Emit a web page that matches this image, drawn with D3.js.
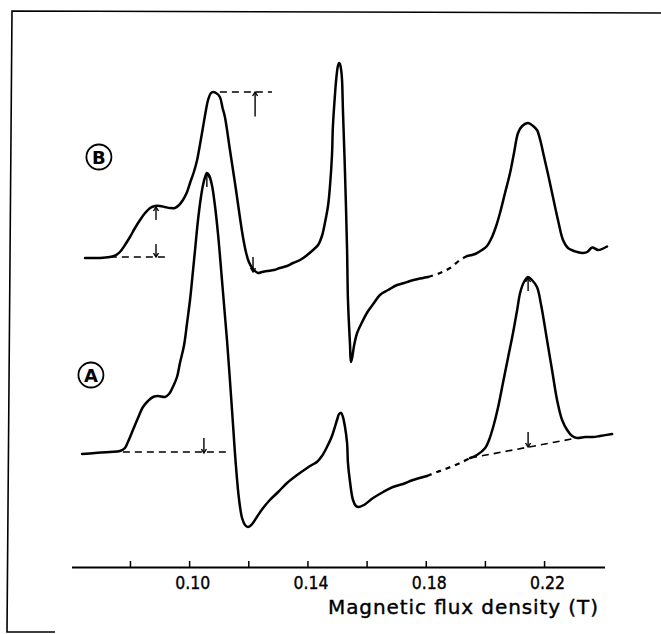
<!DOCTYPE html>
<html><head><meta charset="utf-8">
<script src="https://cdn.jsdelivr.net/npm/d3@7"></script>
<style>
html,body{margin:0;padding:0;background:#fff;}
svg{display:block;}
</style></head>
<body>
<svg id="chart" width="661" height="634"></svg>
<script>
// ---- DATA (x: magnetic flux density in T, y: signal, arbitrary units) ----
const bField = [0.0648,0.0699,0.0732,0.0753,0.0766,0.0783,0.0800,0.0817,0.0834,0.0851,0.0868,0.0885,0.0901,0.0918,0.0935,0.0952,0.0966,0.0979,0.0993,0.1003,0.1016,0.1027,0.1037,0.1047,0.1057,0.1064,0.1074,0.1081,0.1091,0.1104,0.1113,0.1121,0.1138,0.1155,0.1172,0.1182,0.1192,0.1202,0.1216,0.1233,0.1246,0.1263,0.1287,0.1307,0.1331,0.1351,0.1375,0.1399,0.1419,0.1436,0.1449,0.1459,0.1470,0.1476,0.1483,0.1486,0.1493,0.1497,0.1503,0.1507,0.1510,0.1514,0.1517,0.1520,0.1527,0.1534,0.1537,0.1544,0.1547,0.1551,0.1558,0.1568,0.1585,0.1601,0.1625,0.1645,0.1673,0.1703,0.1727,0.1747,0.1774,0.1808,0.1848,0.1882,0.1916,0.1940,0.1967,0.1990,0.2007,0.2024,0.2038,0.2051,0.2068,0.2085,0.2099,0.2112,0.2126,0.2146,0.2163,0.2176,0.2187,0.2197,0.2214,0.2230,0.2247,0.2264,0.2281,0.2312,0.2332,0.2346,0.2363,0.2383,0.2413];
const bSignal = [61.8,61.8,62.0,62.4,63.0,64.4,66.0,67.8,69.4,70.8,71.8,72.2,72.2,72.0,71.8,71.8,72.4,73.4,75.0,76.8,79.0,81.4,84.6,88.0,91.4,93.4,94.8,95.0,94.8,94.0,91.8,90.0,83.4,76.8,69.8,66.0,63.0,61.0,59.6,58.8,59.0,59.2,59.4,59.8,60.2,60.8,61.4,62.4,63.4,64.4,66.2,68.8,72.4,76.0,82.4,88.0,94.4,97.4,100.2,100.8,100.6,99.4,97.4,91.4,78.8,63.4,53.4,44.4,41.0,41.8,44.4,46.8,49.0,50.8,52.8,54.4,55.4,56.4,56.8,57.2,57.6,58.0,58.8,59.8,61.4,62.2,62.6,63.4,64.2,66.0,68.2,70.8,74.8,78.8,83.0,86.8,88.2,88.8,88.2,87.4,85.4,82.8,78.4,74.0,69.4,65.4,63.8,63.0,62.8,63.0,63.9,63.4,64.1];
const bGap = [0.1808, 0.1940];

const aField = [0.0638,0.0682,0.0732,0.0766,0.0783,0.0793,0.0810,0.0827,0.0844,0.0861,0.0878,0.0895,0.0918,0.0932,0.0945,0.0959,0.0969,0.0983,0.0993,0.1003,0.1010,0.1020,0.1030,0.1040,0.1047,0.1054,0.1060,0.1067,0.1077,0.1087,0.1098,0.1111,0.1128,0.1145,0.1158,0.1169,0.1179,0.1189,0.1199,0.1213,0.1229,0.1250,0.1273,0.1301,0.1331,0.1365,0.1399,0.1415,0.1432,0.1449,0.1466,0.1483,0.1500,0.1507,0.1514,0.1520,0.1527,0.1534,0.1537,0.1544,0.1554,0.1564,0.1574,0.1591,0.1622,0.1656,0.1689,0.1723,0.1757,0.1804,0.1838,0.1875,0.1916,0.1950,0.1973,0.2001,0.2014,0.2028,0.2044,0.2061,0.2078,0.2095,0.2109,0.2119,0.2132,0.2146,0.2159,0.2176,0.2190,0.2210,0.2227,0.2244,0.2261,0.2278,0.2295,0.2312,0.2339,0.2366,0.2389,0.2430];
const aSignal = [22.6,22.8,23.0,23.2,23.8,25.0,27.4,29.8,32.0,33.2,34.0,34.2,34.0,34.6,36.0,38.0,40.8,44.4,48.8,53.4,57.4,63.4,69.4,74.0,76.4,78.0,78.8,78.4,76.4,72.4,66.4,57.4,45.4,31.4,20.4,13.4,9.8,8.4,8.0,8.6,10.0,11.8,13.4,15.0,16.8,18.4,19.8,20.4,21.0,22.2,24.0,26.2,29.4,30.6,30.8,30.0,28.0,24.8,20.8,17.0,13.4,12.2,12.0,12.4,13.8,15.0,16.0,16.6,17.4,18.2,19.0,19.8,20.8,21.8,22.4,23.8,25.4,28.0,31.8,36.8,41.8,46.8,51.4,54.8,57.0,58.0,57.4,56.0,52.4,45.4,39.4,33.4,29.4,27.4,26.2,25.8,26.0,26.0,26.2,26.6];
const aGap = [0.1804, 0.1950];

// dashed reference lines: [x0, y0, x1, y1]
const refLines = [
  [0.0732, 62.0, 0.0929, 62.0],
  [0.1104, 95.0, 0.1280, 95.0],
  [0.0776, 23.0, 0.1128, 23.0],
  [0.1950, 21.8, 0.2312, 25.8]
];
// arrows: x, tail value, tip value
const arrowField = [0.0888, 0.0888, 0.1223, 0.1216, 0.1050, 0.1060, 0.2146, 0.2146];
const arrowTail  = [69.4, 64.6, 90.1, 62.0, 25.8, 76.0, 55.2, 27.0];
const arrowTip   = [72.0, 62.0, 95.0, 59.0, 22.8, 78.6, 57.8, 24.0];

// curve labels
const labelText  = ["B", "A"];
const labelField = [0.0695, 0.0668];
const labelValue = [82.0, 38.4];

const tickValues = [0.08,0.10,0.12,0.14,0.16,0.18,0.20,0.22];
const tickLabels = ["", "0.10", "", "0.14", "", "0.18", "", "0.22"];
const axisTitle = "Magnetic flux density (T)";

// ---- DRAW ----
const svg = d3.select("#chart");
const x = d3.scaleLinear().domain([0.0604, 0.2406]).range([72, 605]);
const y = d3.scaleLinear().domain([0, 110]).range([567, 17]);

// frame
svg.append("path")
  .attr("d", "M661,13 L12,11 L7,632 L55,632")
  .attr("fill", "none").attr("stroke", "#000").attr("stroke-width", 1.6);

const line = d3.line().x(d => x(d[0])).y(d => y(d[1])).curve(d3.curveCatmullRom.alpha(0.5));

function drawSeries(F, S, gap) {
  const pts = F.map((f, i) => [f, S[i]]);
  const left = pts.filter(p => p[0] <= gap[0]);
  const mid = pts.filter(p => p[0] >= gap[0] && p[0] <= gap[1]);
  const right = pts.filter(p => p[0] >= gap[1]);
  [left, right].forEach(seg => {
    svg.append("path").attr("d", line(seg))
      .attr("fill", "none").attr("stroke", "#000")
      .attr("stroke-width", 2.5).attr("stroke-linejoin", "round").attr("stroke-linecap", "round");
  });
  svg.append("path").attr("d", line(mid))
    .attr("fill", "none").attr("stroke", "#000")
    .attr("stroke-width", 2.3).attr("stroke-dasharray", "5,5");
}
drawSeries(bField, bSignal, bGap);
drawSeries(aField, aSignal, aGap);

// dashed reference lines
svg.selectAll("line.ref").data(refLines).enter().append("line")
  .attr("class", "ref")
  .attr("x1", d => x(d[0])).attr("y1", d => y(d[1]))
  .attr("x2", d => x(d[2])).attr("y2", d => y(d[3]))
  .attr("stroke", "#000").attr("stroke-width", 1.6).attr("stroke-dasharray", "7,5");

// arrows
arrowField.forEach((f, i) => {
  const ax = x(f), y0 = y(arrowTail[i]), y1 = y(arrowTip[i]);
  const dir = y1 < y0 ? 1 : -1;
  svg.append("line").attr("x1", ax).attr("x2", ax).attr("y1", y0).attr("y2", y1)
    .attr("stroke", "#000").attr("stroke-width", 1.4);
  svg.append("path")
    .attr("d", `M${ax - 2.5},${y1 + dir * 4} L${ax},${y1} L${ax + 2.5},${y1 + dir * 4}`)
    .attr("fill", "none").attr("stroke", "#000").attr("stroke-width", 1.4);
});

// circled labels
labelText.forEach((t, i) => {
  const cx = x(labelField[i]), cy = y(labelValue[i]);
  svg.append("circle").attr("cx", cx).attr("cy", cy).attr("r", 12.5)
    .attr("fill", "none").attr("stroke", "#000").attr("stroke-width", 1.8);
  svg.append("text").attr("x", cx).attr("y", cy + 6.5)
    .attr("text-anchor", "middle")
    .attr("font-family", "DejaVu Sans, sans-serif")
    .attr("font-size", 18).attr("font-weight", "bold").text(t);
});

// axis
const axis = d3.axisBottom(x).tickValues(tickValues)
  .tickSizeInner(-6).tickSizeOuter(0).tickPadding(9)
  .tickFormat((d, i) => tickLabels[i]);
const g = svg.append("g").attr("transform", "translate(0,567)").call(axis);
g.select(".domain").attr("stroke-width", 1.8).attr("d", "M72,0.5H605");
g.selectAll(".tick line").attr("stroke-width", 1.5);
g.selectAll(".tick text")
  .attr("font-family", "DejaVu Sans, sans-serif").attr("font-size", 18)
  .attr("fill", "#000").attr("stroke", "#000").attr("stroke-width", 0.4).attr("dx", 3)
  .attr("textLength", d => tickLabels[tickValues.indexOf(d)] ? 35 : null)
  .attr("lengthAdjust", "spacingAndGlyphs");

svg.append("text").attr("x", 328).attr("y", 614)
  .attr("font-family", "DejaVu Sans, sans-serif").attr("font-size", 20)
  .attr("stroke", "#000").attr("stroke-width", 0.4)
  .attr("textLength", 270).attr("lengthAdjust", "spacing")
  .text(axisTitle);
</script>
</body></html>
